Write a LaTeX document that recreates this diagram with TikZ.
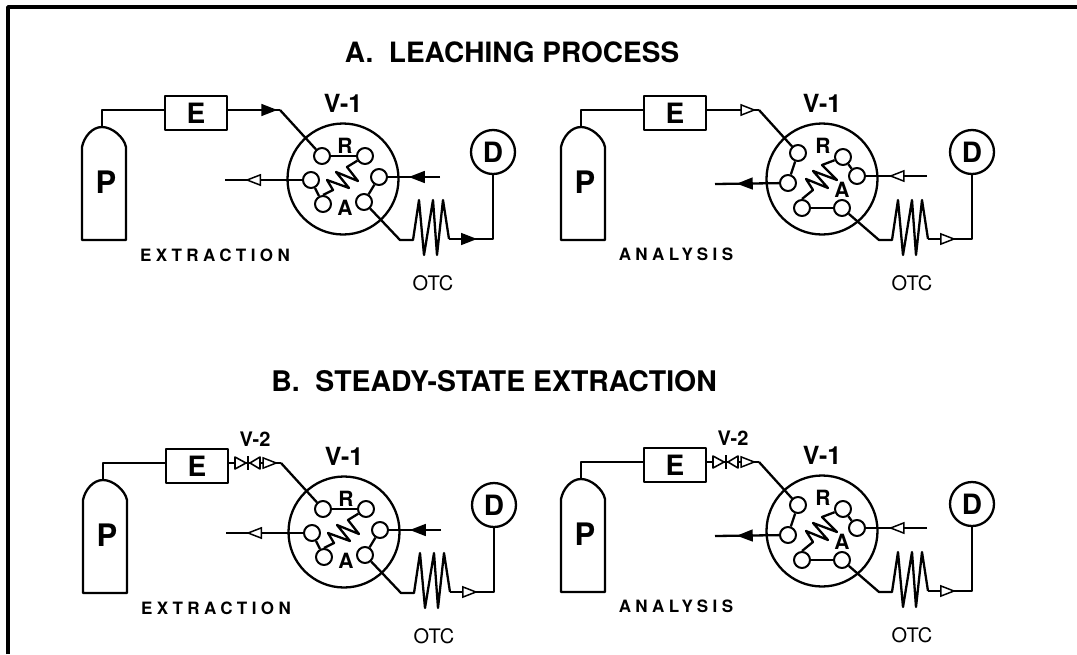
\documentclass[tikz,border=0pt]{standalone}
\usepackage{fontspec}
\setmainfont{TeX Gyre Heros}
\newfontfamily\spacedfont[LetterSpace=26]{TeX Gyre Heros}
\usepackage{xcolor}
\usepackage{tikz}
\usetikzlibrary{arrows.meta,decorations.markings}

\tikzset{
    flowtip/.style 2 args={postaction={decorate}, decoration={markings, mark=at position #2 with {\arrow{Triangle[length=16pt,width=12pt,line width=1.5pt,fill=#1]}}}},
    port/.style={circle, draw, fill=white, line width=2pt, minimum size=16pt, inner sep=0pt},
    portlabel/.style={font=\bfseries\fontsize{21}{21}\selectfont, inner sep=0pt},
    unitlabel/.style={font=\bfseries\fontsize{28}{28}\selectfont, inner sep=0pt},
    valvelabel/.style={font=\bfseries\fontsize{25}{25}\selectfont, inner sep=0pt},
    statelabel/.style={font=\spacedfont\bfseries\fontsize{17}{17}\selectfont, inner sep=0pt},
    titlelabel/.style={font=\bfseries\fontsize{28}{28}\selectfont, inner sep=0pt}
}

% rotor position: extraction
\newcommand{\extractinside}{
    \foreach \n/\x/\y in {1/322/156, 2/365/156, 3/379/177, 4/364/202, 5/323/204, 6/311/180} {
        \node[port] (p\n) at (\x,\y) {};
    }
    \draw (p1) -- (p2);
    \draw (p3) -- (p4);
    \draw (p5) -- (p6);
    \draw (p2) -- (347,167) -- (358,181) -- (336,172) -- (349,188) -- (327,180) -- (333,190) -- (p5.north);
    \node[portlabel] (rlabel) at (345,146) {R};
    \node[portlabel] (alabel) at (345,208) {A};
    \coordinate (wasteend) at (225,180);
    \coordinate (carrierend) at (440,177);
    \draw[flowtip={white}{.74}] (p6) -- (wasteend);
    \draw[flowtip={black}{.6}] (carrierend) -- (p3);
    \node[statelabel] (state) at (215,255) {EXTRACTION};
}

% rotor position: analysis
\newcommand{\analysisinside}{
    \foreach \n/\x/\y in {1/319/153, 2/364/157, 3/378/176, 4/363/208, 5/323/208, 6/309/183} {
        \node[port] (p\n) at (\x,\y) {};
    }
    \draw (p1) -- (p6);
    \draw (p2) -- (p3);
    \draw (p4) -- (p5);
    \draw (p2) -- (343,165) -- (358,180) -- (334,171) -- (349,188) -- (327,179) -- (334,190) -- (p5.north);
    \node[portlabel] (rlabel) at (344,146) {R};
    \node[portlabel] (alabel) at (363,190) {A};
    \coordinate (wasteend) at (236,184);
    \coordinate (carrierend) at (448,176);
    \draw[flowtip={black}{.66}] (p6) -- (wasteend);
    \draw[flowtip={white}{.63}] (carrierend) -- (p3);
    \node[statelabel] (state) at (197,254) {ANALYSIS};
}

\begin{document}
\begin{tikzpicture}[x=1pt, y=-1pt, line width=2.3pt, line join=round]
    \useasboundingbox (0,0) rectangle (1077,654);

    % frame, open to the right and below
    \draw[line width=3.6pt] (8,654) -- (8,7) -- (1077,7);

    \node[titlelabel] (titlea) at (512,52) {A.\ \ LEACHING PROCESS};
    \node[titlelabel, font=\bfseries\fontsize{28.4}{28.4}\selectfont] (titleb) at (494,381) {B.\ \ STEADY-STATE EXTRACTION};

    \foreach \dx/\dy/\inside/\pipefill/\coilfill in {0/0/\extractinside/black/black, 479/0/\analysisinside/white/white, 1/353/\extractinside/white/white, 479/352/\analysisinside/white/white} {
        \begin{scope}[shift={(\dx,\dy)}]
            % pump
            \draw (82,240) -- (82,147) .. controls (84,137) and (92,127) .. (102,127) .. controls (112,127) and (124,137) .. (126,147) -- (126,240) -- cycle;
            \coordinate (neck) at (102,127);
            \node[unitlabel, font=\bfseries\fontsize{31}{31}\selectfont] (pump) at (106,182) {P};

            % extractor
            \node[draw, minimum width=62pt, minimum height=34pt, inner sep=0pt, unitlabel] (extractor) at (196,113) {E};
            \coordinate (extin) at (165,110);
            \coordinate (extout) at (227,110);
            \coordinate (kink) at (280,110);
            \draw (neck) |- (extin);

            % six port valve
            \node[draw, circle, minimum size=111pt, inner sep=0pt] (rotor) at (343,179) {};
            \node[valvelabel] (vone) at (343,103) {V-1};
            \inside
            \draw[flowtip={\pipefill}{.95}] (extout) -- (kink);
            \draw (kink) -- (p1);

            % restrictor coil and detector
            \node[draw, circle, minimum size=44pt, inner sep=0pt, unitlabel] (det) at (493,152) {D};
            \coordinate (coilin) at (400,240);
            \coordinate (coilout) at (449,239);
            \draw (p4) -- (coilin) -- (413,240) -- (419,200) -- (424,255) -- (433,200) -- (437,255) -- (443,200) -- (coilout);
            \draw[flowtip={\coilfill}{.26}] (coilout) -| (det);
            \node[font=\fontsize{20}{20}\selectfont, inner sep=0pt] (otc) at (433,283) {OTC};

            % shut-off valve, part B only
            \ifnum\dy>100
                \draw[fill=white, line width=1.6pt] (234,104) -- (245,110) -- (234,116) -- cycle;
                \draw[fill=white, line width=1.6pt] (259,104) -- (249,110) -- (259,116) -- cycle;
                \draw[line width=1.4pt] (247,103) -- (247,117);
                \node[font=\bfseries\fontsize{20}{20}\selectfont, inner sep=0pt] (vtwo) at (254,86) {V-2};
            \fi
        \end{scope}
    }
\end{tikzpicture}
\end{document}
